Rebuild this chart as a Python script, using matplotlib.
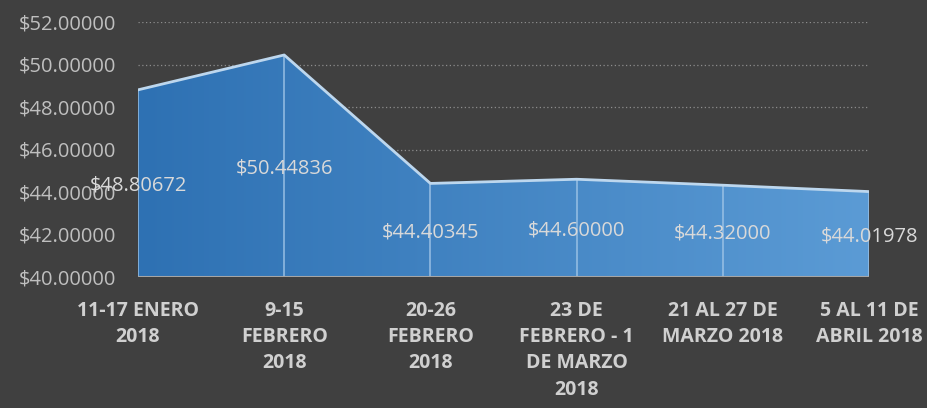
import numpy as np
import matplotlib.pyplot as plt
from matplotlib.colors import LinearSegmentedColormap

categories = ["11-17 ENERO\n2018", "9-15\nFEBRERO\n2018", "20-26\nFEBRERO\n2018",
              "23 DE\nFEBRERO - 1\nDE MARZO\n2018", "21 AL 27 DE\nMARZO 2018",
              "5 AL 11 DE\nABRIL 2018"]
prices = [48.80672, 50.44836, 44.40345, 44.60000, 44.32000, 44.01978]
y_ticks = [40, 42, 44, 46, 48, 50, 52]

bg = "#404040"
plt.rcParams['font.family'] = ['Open Sans', 'DejaVu Sans']

fig = plt.figure(figsize=(9.27, 4.08), dpi=100, facecolor=bg)
ax = fig.add_axes([138/927, 1-277/408, (869-138)/927, (277-22)/408])
ax.set_facecolor(bg)

x = np.arange(len(prices))
base = y_ticks[0]

# gradient fill clipped to the area
poly = ax.fill_between(x, prices, base, facecolor="none", edgecolor="none")
cmap = LinearSegmentedColormap.from_list("g", ["#2E71B3", "#5B9BD5"])
grad = np.linspace(0, 1, 256).reshape(1, -1)
img = ax.imshow(grad, cmap=cmap, aspect="auto", extent=[0, 5, base, 52],
                origin="lower", zorder=2)
img.set_clip_path(poly.get_paths()[0], transform=ax.transData)

# outline of the area
ax.plot(x, prices, color="#BDD7EE", lw=2, zorder=4)
ax.vlines(x, base, prices, color="#9DC3E6", lw=1.3, alpha=0.8, zorder=3)

# grid
for t in y_ticks[1:]:
    ax.axhline(t, color="#8C8C8C", lw=0.9, ls=(0, (1, 2)), zorder=1)
ax.axhline(base, color="#A6A6A6", lw=2.2, zorder=5)

ax.set_xlim(0, 5)
ax.set_ylim(40, 52)
ax.set_yticks(y_ticks)
ax.set_yticklabels(["${:.5f}".format(t) for t in y_ticks], color="#BFBFBF", fontsize=14.5)
ax.set_xticks(x)
ax.set_xticklabels(categories, color="#D0D0D0", fontsize=14, fontweight="bold",
                   linespacing=1.42, va="top")
ax.tick_params(length=0)
ax.tick_params(axis="x", pad=17)
ax.tick_params(axis="y", pad=16)
for s in ax.spines.values():
    s.set_visible(False)

for xi, v in zip(x, prices):
    ax.text(xi, (v + base) / 2, "${:.5f}".format(v), color="#D9D9D9",
            fontsize=14.5, ha="center", va="center_baseline", zorder=6)

fig.savefig("out.png", dpi=100, facecolor=bg)
